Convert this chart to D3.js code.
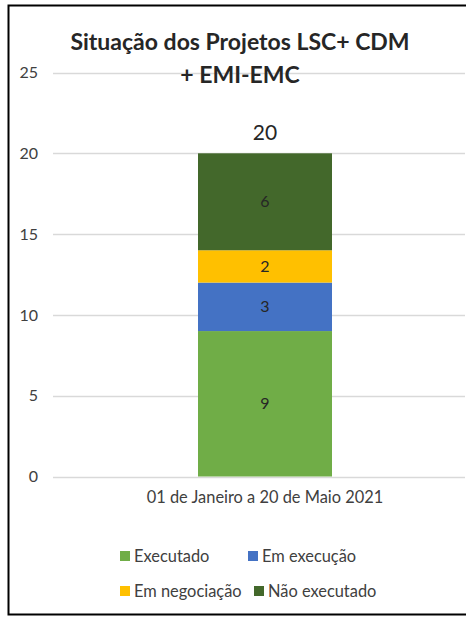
<!doctype html>
<html lang="pt">
<head>
<meta charset="utf-8">
<title>Situação dos Projetos</title>
<script src="https://cdn.jsdelivr.net/npm/d3@7"></script>
<style>
  body { margin: 0; background: #fff; }
  svg { display: block; font-family: Lato, "Open Sans", sans-serif; }
</style>
</head>
<body>
<svg id="chart" width="466" height="617"></svg>
<script>
// data
var categories = ["01 de Janeiro a 20 de Maio 2021"];
var seriesNames = ["Executado", "Em execução", "Em negociação", "Não executado"];
var seriesValues = [9, 3, 2, 6];
var seriesColors = ["#70ad47", "#4472c4", "#ffc000", "#43682b"];
var yTicks = [0, 5, 10, 15, 20, 25];

var svg = d3.select("#chart");

// outer frame (right edge clipped off in the original)
svg.append("path")
  .attr("d", "M470,5.5 H8.5 V614.5 H470")
  .attr("fill", "none").attr("stroke", "#000").attr("stroke-width", 2);

var y = d3.scaleLinear().domain([0, 25]).range([476.5, 72.5]);

// gridlines
svg.append("g").selectAll("line").data(yTicks).enter().append("line")
  .attr("x1", 53).attr("x2", 465)
  .attr("y1", function (d) { return Math.round(y(d)) + 0.5; })
  .attr("y2", function (d) { return Math.round(y(d)) + 0.5; })
  .attr("stroke", "#d9d9d9").attr("stroke-width", 1.3);

// y axis labels
svg.append("g").selectAll("text").data(yTicks).enter().append("text")
  .attr("x", 38).attr("y", function (d) { return y(d); })
  .attr("dy", "0.35em").attr("text-anchor", "end")
  .attr("font-size", 16).attr("fill", "#404040")
  .text(function (d) { return d; });

// stacked segments
var stacked = [];
var acc = 0;
seriesValues.forEach(function (v, i) {
  stacked.push({ name: seriesNames[i], v: v, y0: acc, y1: acc + v, color: seriesColors[i] });
  acc += v;
});

var bx = 198, bw = 134;
var bars = svg.append("g");
bars.selectAll("rect").data(stacked).enter().append("rect")
  .attr("x", bx).attr("width", bw)
  .attr("y", function (d) { return y(d.y1); })
  .attr("height", function (d) { return y(d.y0) - y(d.y1); })
  .attr("fill", function (d) { return d.color; });

bars.selectAll("text").data(stacked).enter().append("text")
  .attr("x", bx + bw / 2)
  .attr("y", function (d) { return y((d.y0 + d.y1) / 2); })
  .attr("dy", "0.35em").attr("text-anchor", "middle")
  .attr("font-size", 16).attr("fill", "#262626")
  .text(function (d) { return d.v; });

// total label
svg.append("text")
  .attr("x", bx + bw / 2).attr("y", y(acc) - 21)
  .attr("dy", "0.35em").attr("text-anchor", "middle")
  .attr("font-size", 21).attr("fill", "#262626")
  .text(acc);

// category label
svg.append("text")
  .attr("x", bx + bw / 2).attr("y", 497)
  .attr("dy", "0.35em").attr("text-anchor", "middle")
  .attr("font-size", 16.4).attr("fill", "#404040")
  .text(categories[0]);

// title
var title = svg.append("text")
  .attr("text-anchor", "middle").attr("font-size", 23).attr("font-weight", "bold").attr("fill", "#262626");
title.append("tspan").attr("x", 240).attr("y", 50).text("Situação dos Projetos LSC+ CDM");
title.append("tspan").attr("x", 240).attr("y", 83).text("+ EMI-EMC");

// legend
var legendPos = [[120, 556], [248, 556], [120, 591], [254, 591]];
var lg = svg.append("g").selectAll("g").data(seriesNames).enter().append("g")
  .attr("transform", function (d, i) { return "translate(" + legendPos[i][0] + "," + legendPos[i][1] + ")"; });
lg.append("rect").attr("x", 0).attr("y", -5).attr("width", 10).attr("height", 10)
  .attr("fill", function (d, i) { return seriesColors[i]; });
lg.append("text").attr("x", 14).attr("dy", "0.35em")
  .attr("font-size", 16.4).attr("fill", "#404040")
  .text(function (d) { return d; });
</script>
</body>
</html>
